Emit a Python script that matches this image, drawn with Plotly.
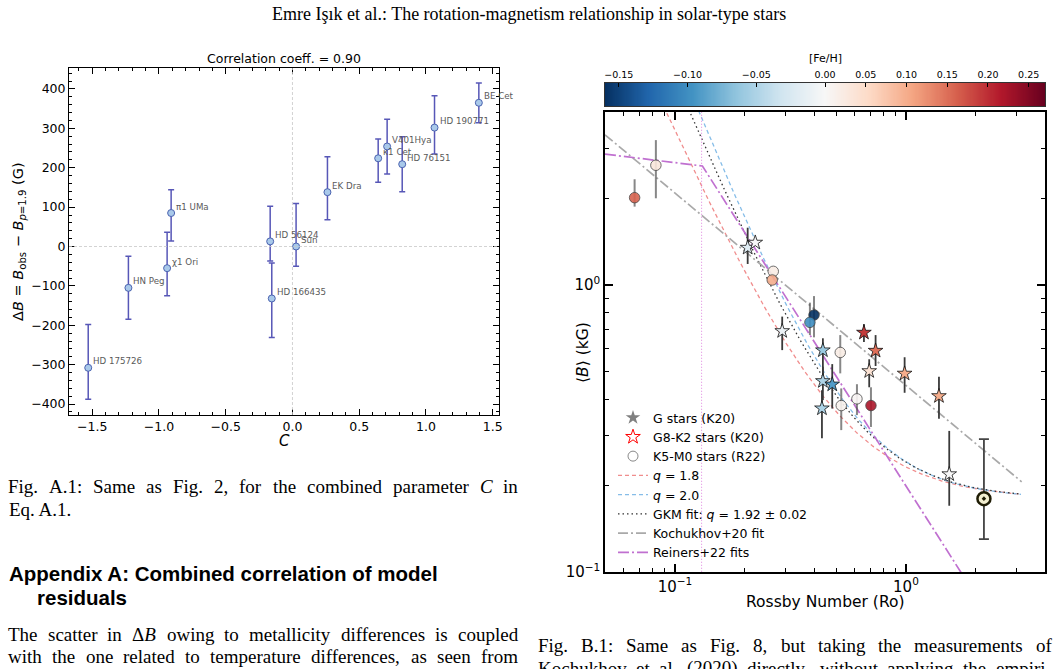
import re
import numpy as np
import plotly.graph_objects as go

W, H = 1058, 669


def fx(p):
    return p / W


def fy(p):
    return 1 - p / H


# ---------------- Fig. A.1 (left panel) data ----------------
names_a = ["HD 175726", "HN Peg", "χ1 Ori", "π1 UMa", "HD 56124", "HD 166435", "Sun",
           "EK Dra", "κ1 Cet", "V401Hya", "HD 76151", "HD 190771", "BE Cet"]
C_vals = [-1.53, -1.229, -0.939, -0.909, -0.167, -0.155, 0.027, 0.262, 0.642, 0.709, 0.822, 1.064, 1.396]
dB_vals = [-308, -105, -55, 85, 13, -132, 0, 138, 224, 254, 209, 302, 365]
dB_upper = [-198, -25, 36, 144, 102, -42, 109, 228, 273, 323, 279, 383, 415]
dB_lower = [-388, -185, -125, 14, -37, -231, -50, 68, 163, 184, 139, 235, 314]
a_xticks = [-1.5, -1.0, -0.5, 0.0, 0.5, 1.0, 1.5]
a_yticks = [-400, -300, -200, -100, 0, 100, 200, 300, 400]

# ---------------- Fig. B.1 (right panel) data ----------------
# Kochukhov+20 stars (stars)
ro_k20 = [0.2065, 0.2227, 0.2913, 0.437, 0.437, 0.4797, 0.4329, 0.658, 0.739, 0.6935, 0.987, 1.39, 1.54]
B_k20 = [1.349, 1.405, 0.691, 0.592, 0.4625, 0.450, 0.3715, 0.682, 0.590, 0.501, 0.491, 0.41, 0.219]
B_k20_hi = [1.584, 1.44, 0.776, 0.652, 0.519, 0.530, 0.43, 0.731, 0.669, 0.551, 0.56, 0.479, 0.31]
B_k20_lo = [1.184, 1.37, 0.593, 0.479, 0.397, 0.371, 0.292, 0.633, 0.522, 0.44, 0.421, 0.342, 0.170]
feh_k20 = [-0.02, 0.0, -0.01, -0.06, -0.05, -0.09, -0.05, 0.19, 0.15, 0.04, 0.10, 0.10, 0.0]
# Reiners+22 K5-M0 stars (circles)
ro_r22 = [0.0669, 0.0827, 0.2665, 0.2637, 0.400, 0.384, 0.5196, 0.6137, 0.5248, 0.7056]
B_r22 = [2.016, 2.615, 1.116, 1.041, 0.786, 0.741, 0.582, 0.401, 0.380, 0.380]
B_r22_hi = [2.337, 3.20, 1.116, 1.041, 0.915, 0.868, 0.669, 0.451, 0.436, 0.44]
B_r22_lo = [1.876, 2.006, 1.116, 1.041, 0.657, 0.669, 0.492, 0.352, 0.312, 0.32]
feh_r22 = [0.16, 0.03, 0.02, 0.10, -0.16, -0.10, 0.02, 0.005, 0.01, 0.22]
# Sun
ro_sun = [2.176]
B_sun = [0.180]
B_sun_hi = [0.290]
B_sun_lo = [0.130]

# Fit lines
koch_ro = [0.0498, 3.17]
koch_B = [3.34, 0.206]
reiners_ro = [0.0498, 0.1315, 1.9]
reiners_B = [2.86, 2.60, 0.0885]
ro_sat = 0.1304
# model curves  B = a * Ro^-q + c  (parameters matched to the drawn curves)
model_names = ["<i>q</i> = 1.8", "<i>q</i> = 2.0", "GKM fit: <i>q</i> = 1.92 ± 0.02"]
model_q = [1.8, 2.0, 1.92]
model_a = [0.052, 0.062, 0.0611]
model_c = [0.18, 0.18, 0.18]
model_colors = ["#f08d8d", "#86bde8", "#333333"]
model_dash = ["4px,3px", "4px,3px", "1.5px,3px"]
ro_model_range = [0.05, 3.15]

cb_ticks = [-0.15, -0.10, -0.05, 0.00, 0.05, 0.10, 0.15, 0.20, 0.25]
FEH_MIN, FEH_MAX = -0.16, 0.27

RDBU_R = ["#053061", "#2166ac", "#4393c3", "#92c5de", "#d1e5f0", "#f7f7f7",
          "#fddbc7", "#f4a582", "#d6604d", "#b2182b", "#67001f"]
colorscale = [[i / 10, c] for i, c in enumerate(RDBU_R)]


def feh_norm(v):
    v = np.asarray(v, float)
    return np.where(v < 0, 0.5 * (v - FEH_MIN) / (0 - FEH_MIN), 0.5 + 0.5 * v / FEH_MAX)


def minus(s):
    return s.replace("-", "−")


SANS = "DejaVu Sans"
SERIF = "Liberation Serif"

fig = go.Figure()

# ---------------- left panel ----------------
fig.add_trace(go.Scatter(
    x=C_vals, y=dB_vals, mode="markers", xaxis="x", yaxis="y", showlegend=False,
    marker=dict(size=7, color="#a9c9ea", line=dict(color="#4b63b0", width=1)),
    error_y=dict(type="data", symmetric=False,
                 array=[h - v for h, v in zip(dB_upper, dB_vals)],
                 arrayminus=[v - l for v, l in zip(dB_vals, dB_lower)],
                 color="rgba(45,45,165,0.8)", thickness=1.5, width=3),
))

# ---------------- right panel ----------------
# legend proxies
fig.add_trace(go.Scatter(x=[None], y=[None], mode="markers", name="G stars (K20)",
                         marker=dict(symbol="star", size=11, color="#808080"),
                         xaxis="x2", yaxis="y2"))
fig.add_trace(go.Scatter(x=[None], y=[None], mode="markers", name="G8-K2 stars (K20)",
                         marker=dict(symbol="star-open", size=11, color="red", line=dict(width=1)),
                         xaxis="x2", yaxis="y2"))
fig.add_trace(go.Scatter(x=[None], y=[None], mode="markers", name="K5-M0 stars (R22)",
                         marker=dict(symbol="circle-open", size=10, color="#888888", line=dict(width=1)),
                         xaxis="x2", yaxis="y2"))

ro_model = np.geomspace(ro_model_range[0], ro_model_range[1], 300)
for nm, q, a, c, col, dsh in zip(model_names, model_q, model_a, model_c, model_colors, model_dash):
    fig.add_trace(go.Scatter(x=ro_model, y=a * ro_model ** (-q) + c, mode="lines", name=nm,
                             line=dict(color=col, dash=dsh, width=1.3), xaxis="x2", yaxis="y2"))

fig.add_trace(go.Scatter(x=koch_ro, y=koch_B, mode="lines", name="Kochukhov+20 fit",
                         line=dict(color="#a9a9a9", dash="10px,3px,2px,3px", width=1.7),
                         xaxis="x2", yaxis="y2"))
fig.add_trace(go.Scatter(x=reiners_ro, y=reiners_B, mode="lines", name="Reiners+22 fits",
                         line=dict(color="#c070d0", dash="11px,3px,2px,3px", width=1.7),
                         xaxis="x2", yaxis="y2"))
fig.add_trace(go.Scatter(x=[ro_sat, ro_sat], y=[0.1, 4.1], mode="lines", showlegend=False,
                         line=dict(color="#e08de0", dash="1px,2px", width=1.1),
                         xaxis="x2", yaxis="y2"))

# R22 circles
fig.add_trace(go.Scatter(
    x=ro_r22, y=B_r22, mode="markers", showlegend=False, xaxis="x2", yaxis="y2",
    marker=dict(symbol="circle", size=10.5, color=feh_norm(feh_r22), colorscale=colorscale,
                cmin=0, cmax=1, opacity=0.9, line=dict(color="#3a3a3a", width=0.8)),
    error_y=dict(type="data", symmetric=False,
                 array=[h - v for h, v in zip(B_r22_hi, B_r22)],
                 arrayminus=[v - l for v, l in zip(B_r22, B_r22_lo)],
                 color="rgba(70,70,70,0.65)", thickness=2, width=0),
))
# K20 stars
fig.add_trace(go.Scatter(
    x=ro_k20, y=B_k20, mode="markers", showlegend=False, xaxis="x2", yaxis="y2",
    marker=dict(symbol="star", size=11, color=feh_norm(feh_k20), colorscale=colorscale,
                cmin=0, cmax=1, line=dict(color="#111111", width=0.8)),
    error_y=dict(type="data", symmetric=False,
                 array=[h - v for h, v in zip(B_k20_hi, B_k20)],
                 arrayminus=[v - l for v, l in zip(B_k20, B_k20_lo)],
                 color="#3a3a3a", thickness=1.8, width=0),
))
# Sun
fig.add_trace(go.Scatter(
    x=ro_sun, y=B_sun, mode="markers", showlegend=False, xaxis="x2", yaxis="y2",
    marker=dict(symbol="circle-dot", size=13, color="#f3efd0", line=dict(color="#1f1c05", width=2.5)),
    error_y=dict(type="data", symmetric=False,
                 array=[h - v for h, v in zip(B_sun_hi, B_sun)],
                 arrayminus=[v - l for v, l in zip(B_sun, B_sun_lo)],
                 color="#444444", thickness=1.8, width=5),
))

# colorbar as a heatmap
cb_x = np.linspace(0, 1, 400)
fig.add_trace(go.Heatmap(x=cb_x, y=[0, 1], z=[cb_x, cb_x], colorscale=colorscale, zmin=0, zmax=1,
                         showscale=False, xaxis="x3", yaxis="y3", hoverinfo="skip"))

axis_common = dict(showgrid=False, zeroline=False, showline=True, linecolor="black",
                   mirror="allticks", ticks="inside", tickcolor="black")

log_minor = [0.05, 0.06, 0.07, 0.08, 0.09, 0.2, 0.3, 0.4, 0.5, 0.6, 0.7, 0.8, 0.9, 2, 3, 4]

fig.update_layout(
    width=W, height=H, autosize=False, margin=dict(l=0, r=0, t=0, b=0, autoexpand=False),
    paper_bgcolor="white", plot_bgcolor="white",
    font=dict(family=SANS, color="black"),
    xaxis=dict(domain=[fx(69), fx(499)], range=[-1.674, 1.547], anchor="y",
               tickvals=a_xticks, ticktext=[minus(f"{v:.1f}") for v in a_xticks],
               ticklen=6, tickwidth=1, linewidth=1, tickfont=dict(size=12.5),
               minor=dict(ticks="inside", dtick=0.1, tick0=0, ticklen=3, tickcolor="black"),
               **axis_common),
    yaxis=dict(domain=[fy(415), fy(68)], range=[-427.9, 453.3], anchor="x",
               tickvals=a_yticks, ticktext=[minus(str(v)) for v in a_yticks],
               ticklen=6, tickwidth=1, linewidth=1, tickfont=dict(size=12.5),
               minor=dict(ticks="inside", dtick=20, tick0=0, ticklen=3, tickcolor="black"),
               **axis_common),
    xaxis2=dict(type="log", domain=[fx(605), fx(1045)], range=[np.log10(0.0498), np.log10(4.0)],
                anchor="y2", tickvals=[0.1, 1], ticktext=["10<sup>−1</sup>", "10<sup>0</sup>"],
                ticklen=8, tickwidth=1.5, linewidth=1.5, tickfont=dict(size=15),
                minor=dict(ticks="inside", tickmode="array", tickvals=log_minor, ticklen=4,
                           tickwidth=1, tickcolor="black"),
                **axis_common),
    yaxis2=dict(type="log", domain=[fy(572), fy(112)], range=[-1.0005, np.log10(4.01)],
                anchor="x2", tickvals=[0.1, 1], ticktext=["10<sup>−1</sup>", "10<sup>0</sup>"],
                ticklen=8, tickwidth=1.5, linewidth=1.5, tickfont=dict(size=15),
                minor=dict(ticks="inside", tickmode="array", tickvals=log_minor, ticklen=4,
                           tickwidth=1, tickcolor="black"),
                **axis_common),
    xaxis3=dict(domain=[fx(605), fx(1045)], range=[0, 1], anchor="y3", side="top",
                tickvals=list(feh_norm(cb_ticks)), ticktext=[minus(f"{v:.2f}") for v in cb_ticks],
                ticks="inside", ticklen=4, tickcolor="black", tickfont=dict(size=9.5),
                showline=True, mirror=True, linecolor="#333333", linewidth=1.2,
                showgrid=False, zeroline=False),
    yaxis3=dict(domain=[fy(106), fy(83)], range=[0, 1], anchor="x3", showticklabels=False,
                ticks="", showline=True, mirror=True, linecolor="#333333", linewidth=1.2,
                showgrid=False, zeroline=False),
    legend=dict(x=fx(613), y=fy(403), xanchor="left", yanchor="top", bgcolor="rgba(0,0,0,0)",
                font=dict(size=12.5, family=SANS), traceorder="normal"),
)

shapes = [
    dict(type="line", xref="x", yref="y domain", x0=0, x1=0, y0=0, y1=1,
         line=dict(color="#c8c8c8", width=0.8, dash="3px,2px")),
    dict(type="line", xref="x domain", yref="y", x0=0, x1=1, y0=0, y1=0,
         line=dict(color="#c8c8c8", width=0.8, dash="3px,2px")),
]
fig.update_layout(shapes=shapes)

ann = []
# star labels of left panel
for nm, xv, yv in zip(names_a, C_vals, dB_vals):
    ann.append(dict(x=xv, y=yv, xref="x", yref="y", text=nm, showarrow=False,
                    xanchor="left", yanchor="middle", xshift=3, yshift=6.5,
                    font=dict(size=8.7, color="#5a5a5a", family=SANS)))


def paper_text(text, x, y, size, family=SANS, anchor="center", angle=0, color="black"):
    ann.append(dict(x=fx(x), y=fy(y), xref="paper", yref="paper", text=text, showarrow=False,
                    xanchor=anchor, yanchor="middle", textangle=angle,
                    font=dict(size=size, family=family, color=color)))


paper_text("Correlation coeff. = 0.90", 284, 59, 12.5)
paper_text("Δ<i>B</i> = <i>B</i><sub>obs</sub> − <i>B</i><sub><i>p</i>=1.9</sub> (G)", 19, 242, 14.5, angle=-90)
paper_text("<i>C</i>", 284, 441, 15)
paper_text("[Fe/H]", 825, 59, 11)
paper_text("Rossby Number (Ro)", 825, 602, 15.5)
paper_text("⟨<i>B</i>⟩ (kG)", 583, 353, 15.5, angle=-90)

# page text
TIMES = {" ": 250, "!": 333, "(": 333, ")": 333, ",": 250, "-": 333, ".": 250, "/": 278, ":": 278,
         ";": 278, "=": 564, "Δ": 612, "ş": 389, "ı": 278}
for ch in "0123456789":
    TIMES[ch] = 500
TIMES.update(dict(zip("ABCDEFGHIJKLMNOPQRSTUVWXYZ",
                      [722, 667, 667, 722, 611, 556, 722, 722, 333, 389, 722, 611, 889, 722, 722, 556,
                       722, 667, 556, 611, 722, 722, 944, 722, 722, 611])))
TIMES.update(dict(zip("abcdefghijklmnopqrstuvwxyz",
                      [444, 500, 444, 500, 444, 333, 500, 500, 278, 278, 500, 278, 778, 500, 500, 500,
                       500, 333, 389, 278, 500, 500, 722, 500, 500, 444])))


def tw(s, size):
    s = re.sub("<[^>]+>", "", s)
    return sum(TIMES.get(c, 500) for c in s) / 1000.0 * size


BODY = 19


def justify(line, x0, x1, y, size=BODY):
    words = line.split(" ")
    widths = [tw(w, size) for w in words]
    gap = (x1 - x0 - sum(widths)) / (len(words) - 1)
    xc = x0
    for w, wd in zip(words, widths):
        ann.append(dict(x=fx(xc), y=fy(y), xref="paper", yref="paper", text=w, showarrow=False,
                        xanchor="left", yanchor="middle", borderpad=0,
                        font=dict(size=size, family=SERIF, color="black")))
        xc += wd + gap


paper_text("Emre Işık et al.: The rotation-magnetism relationship in solar-type stars", 529, 14, 18, SERIF)
justify("Fig. A.1: Same as Fig. 2, for the combined parameter <i>C</i> in", 7, 517, 486)
paper_text("Eq. A.1.", 7, 509, BODY, SERIF, anchor="left")
paper_text("<b>Appendix A: Combined correlation of model</b>", 7, 573, 20.5, "Liberation Sans", anchor="left")
paper_text("<b>residuals</b>", 35, 597, 20.5, "Liberation Sans", anchor="left")
justify("The scatter in Δ<i>B</i> owing to metallicity differences is coupled", 7, 517, 634)
justify("with the one related to temperature differences, as seen from", 7, 517, 656)
justify("Fig. B.1: Same as Fig. 8, but taking the measurements of", 537, 1051, 645)
justify("Kochukhov et al. (2020) directly, without applying the empiri-", 537, 1051, 668)

fig.update_layout(annotations=ann)
fig.write_html("out.html")
